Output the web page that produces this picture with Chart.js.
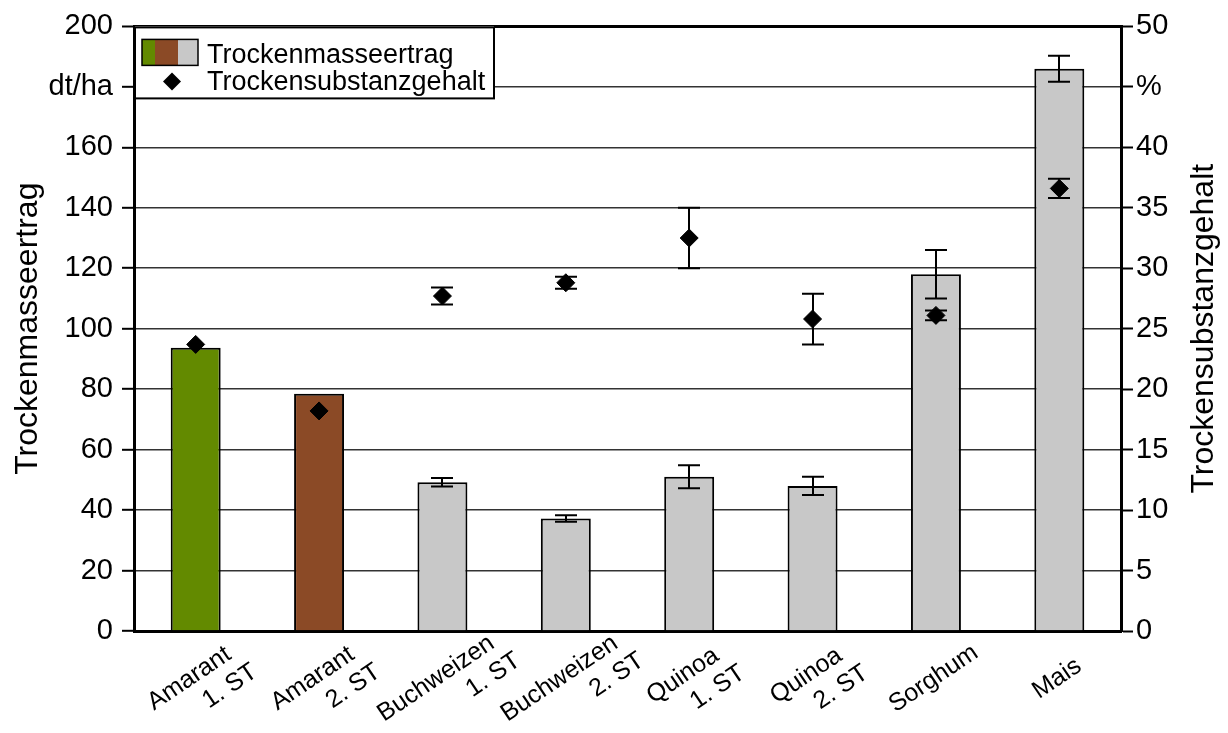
<!DOCTYPE html>
<html lang="de">
<head>
<meta charset="utf-8">
<title>Trockenmasseertrag und Trockensubstanzgehalt</title>
<script src="https://cdn.jsdelivr.net/npm/chart.js@4/dist/chart.umd.min.js"></script>
<style>
  html, body { margin: 0; padding: 0; background: #ffffff; }
  #wrap { position: relative; width: 1228px; height: 733px; }
</style>
</head>
<body>
<div id="wrap"><canvas id="chart"></canvas></div>
<script>
// Kulturen (mehrzeilige Beschriftungen)
const categories = [
  ['Amarant', '1. ST'], ['Amarant', '2. ST'],
  ['Buchweizen', '1. ST'], ['Buchweizen', '2. ST'],
  ['Quinoa', '1. ST'], ['Quinoa', '2. ST'],
  ['Sorghum'], ['Mais']
];
// Trockenmasseertrag in dt/ha und Standardabweichung
const yieldValues = [93.7, 78.5, 49.2, 37.2, 51.0, 48.0, 118.0, 186.0];
const yieldErrors = [null, null, 1.4, 1.1, 3.8, 3.0, 8.0, 4.3];
// Trockensubstanzgehalt in % und Standardabweichung
const dmValues = [23.7, 18.2, 27.7, 28.8, 32.5, 25.8, 26.1, 36.6];
const dmErrors = [null, null, 0.7, 0.5, 2.5, 2.1, 0.4, 0.8];
// Balkenfarben je Kultur
const barColors = ['#638a00', '#8b4a26', '#c8c8c8', '#c8c8c8', '#c8c8c8', '#c8c8c8', '#c8c8c8', '#c8c8c8'];
// Achsenbeschriftungen (Einheit ersetzt einen Tickwert)
const leftTicks = [0, 20, 40, 60, 80, 100, 120, 140, 160, 'dt/ha', 200];
const rightTicks = [0, 5, 10, 15, 20, 25, 30, 35, 40, '%', 50];
const leftTitle = 'Trockenmasseertrag';
const rightTitle = 'Trockensubstanzgehalt';
const legendLabels = ['Trockenmasseertrag', 'Trockensubstanzgehalt'];

const FONT = "'Liberation Sans', Arial, sans-serif";

// Fehlerbalken für beide Datensätze
const errorBars = {
  id: 'errorBars',
  afterDatasetsDraw(chart) {
    const ctx = chart.ctx;
    const x = chart.scales.x;
    const pairs = [
      { vals: yieldValues, errs: yieldErrors, scale: chart.scales.y },
      { vals: dmValues, errs: dmErrors, scale: chart.scales.y2 }
    ];
    ctx.save();
    ctx.strokeStyle = '#000';
    ctx.lineWidth = 2;
    const cap = 11;
    pairs.forEach(p => {
      p.vals.forEach((v, i) => {
        const e = p.errs[i];
        if (e == null) return;
        const cx = Math.round(x.getPixelForValue(i));
        const y1 = p.scale.getPixelForValue(v + e);
        const y2 = p.scale.getPixelForValue(v - e);
        ctx.beginPath();
        ctx.moveTo(cx, y1); ctx.lineTo(cx, y2);
        ctx.moveTo(cx - cap, y1); ctx.lineTo(cx + cap, y1);
        ctx.moveTo(cx - cap, y2); ctx.lineTo(cx + cap, y2);
        ctx.stroke();
      });
    });
    ctx.restore();
  }
};

// gedrehte Kategorienbeschriftung: Block wird über seinem Umriss zentriert
function drawCategoryLabel(ctx, lines, tx, ty) {
  const a = 34 * Math.PI / 180;
  const ca = Math.cos(a), sa = Math.sin(a);
  const lh = 29, shift = 12, asc = 18, desc = 5;
  const widths = lines.map(l => ctx.measureText(l).width);
  const endBase = Math.max(...widths);
  const segs = lines.map((l, k) => {
    const end = endBase + k * shift;
    return { text: l, u0: end - widths[k], u1: end, v: k * lh };
  });
  let minX = Infinity, maxX = -Infinity, minY = Infinity, maxY = -Infinity;
  segs.forEach(s => {
    [[s.u0, s.v - asc], [s.u1, s.v - asc], [s.u0, s.v + desc], [s.u1, s.v + desc]].forEach(([u, v]) => {
      const x = u * ca + v * sa, y = -u * sa + v * ca;
      minX = Math.min(minX, x); maxX = Math.max(maxX, x);
      minY = Math.min(minY, y); maxY = Math.max(maxY, y);
    });
  });
  const ox = tx - (minX + maxX) / 2, oy = ty - (minY + maxY) / 2;
  ctx.save();
  ctx.translate(ox, oy);
  ctx.rotate(-a);
  ctx.textAlign = 'left';
  ctx.textBaseline = 'alphabetic';
  segs.forEach(s => ctx.fillText(s.text, s.u0, s.v));
  ctx.restore();
}

// Achsentitel, Kategorienbeschriftung und Legende
const decorations = {
  id: 'decorations',
  afterDraw(chart) {
    const ctx = chart.ctx;
    const area = chart.chartArea;
    const midY = (area.top + area.bottom) / 2;
    ctx.save();
    ctx.fillStyle = '#000';

    // Achsentitel
    ctx.font = '32px ' + FONT;
    ctx.textAlign = 'center';
    ctx.textBaseline = 'middle';
    ctx.save();
    ctx.translate(28, midY);
    ctx.rotate(-Math.PI / 2);
    ctx.fillText(leftTitle, 0, 0);
    ctx.restore();
    ctx.save();
    ctx.translate(1204, midY);
    ctx.rotate(-Math.PI / 2);
    ctx.fillText(rightTitle, 0, 0);
    ctx.restore();

    // Kategorien
    const xs = chart.scales.x;
    ctx.font = '25px ' + FONT;
    categories.forEach((lines, i) => {
      const tx = xs.getPixelForValue(i) + (lines.length > 1 ? 7 : -2);
      drawCategoryLabel(ctx, lines, tx, area.bottom + 48);
    });

    // Legende
    const bx = area.left + 1, by = area.top, bw = 359, bh = 72;
    ctx.fillStyle = '#fff';
    ctx.fillRect(bx, by, bw, bh);
    ctx.strokeStyle = '#000';
    ctx.lineWidth = 2;
    ctx.strokeRect(bx, by + 1, bw, bh - 1);
    const px = bx + 7, py = by + 13, ph = 26;
    const stripes = [[barColors[0], 13], [barColors[1], 23], [barColors[2], 20]];
    let sx = px;
    stripes.forEach(([c, w]) => {
      ctx.fillStyle = c;
      ctx.fillRect(sx, py, w, ph);
      sx += w;
    });
    ctx.lineWidth = 1.5;
    ctx.strokeRect(px, py, sx - px, ph);
    // Raute
    const dx = bx + 37, dy = by + 55, r = 9;
    ctx.fillStyle = '#000';
    ctx.beginPath();
    ctx.moveTo(dx - r, dy); ctx.lineTo(dx, dy - r); ctx.lineTo(dx + r, dy); ctx.lineTo(dx, dy + r);
    ctx.closePath();
    ctx.fill();
    ctx.font = '27px ' + FONT;
    ctx.textAlign = 'left';
    ctx.textBaseline = 'alphabetic';
    ctx.fillText(legendLabels[0], bx + 72, by + 37);
    ctx.fillText(legendLabels[1], bx + 72, by + 64);
    ctx.restore();
  }
};

new Chart(document.getElementById('chart'), {
  data: {
    labels: categories,
    datasets: [
      {
        type: 'line',
        label: legendLabels[1],
        data: dmValues,
        yAxisID: 'y2',
        showLine: false,
        pointStyle: 'rectRot',
        pointRadius: 9,
        pointHoverRadius: 9,
        pointBackgroundColor: '#000',
        pointBorderColor: '#000',
        pointBorderWidth: 1,
        order: 0
      },
      {
        type: 'bar',
        label: legendLabels[0],
        data: yieldValues,
        yAxisID: 'y',
        backgroundColor: barColors,
        borderColor: '#000',
        borderWidth: 2,
        barPercentage: 0.405,
        categoryPercentage: 1,
        order: 1
      }
    ]
  },
  options: {
    responsive: true,
    maintainAspectRatio: false,
    animation: false,
    layout: { padding: { top: 23, left: 0, right: 0, bottom: 0 } },
    plugins: { legend: { display: false }, tooltip: { enabled: false } },
    scales: {
      x: {
        type: 'category',
        offset: true,
        grid: { display: false },
        ticks: { display: false },
        border: { color: '#000', width: 3 },
        afterFit(s) { s.height = 102; }
      },
      y: {
        position: 'left',
        min: 0, max: 200,
        ticks: {
          stepSize: 20,
          color: '#000',
          padding: 9,
          font: { family: FONT, size: 29 },
          callback: (v) => leftTicks[Math.round(v / 20)]
        },
        grid: {
          color: (c) => c.tick && c.tick.value === 200 ? '#000' : '#333',
          lineWidth: (c) => c.tick && c.tick.value === 200 ? 3 : 1.6,
          tickLength: 12,
          tickColor: '#000',
          tickWidth: 2
        },
        border: { color: '#000', width: 3 },
        afterFit(s) { s.width = 134; }
      },
      y2: {
        position: 'right',
        min: 0, max: 50,
        ticks: {
          stepSize: 5,
          color: '#000',
          padding: 3,
          font: { family: FONT, size: 29 },
          callback: (v) => rightTicks[Math.round(v / 5)]
        },
        grid: {
          drawOnChartArea: false,
          tickLength: 12,
          tickColor: '#000',
          tickWidth: 2
        },
        border: { color: '#000', width: 3 },
        afterFit(s) { s.width = 107; }
      }
    }
  },
  plugins: [errorBars, decorations]
});
</script>
</body>
</html>
